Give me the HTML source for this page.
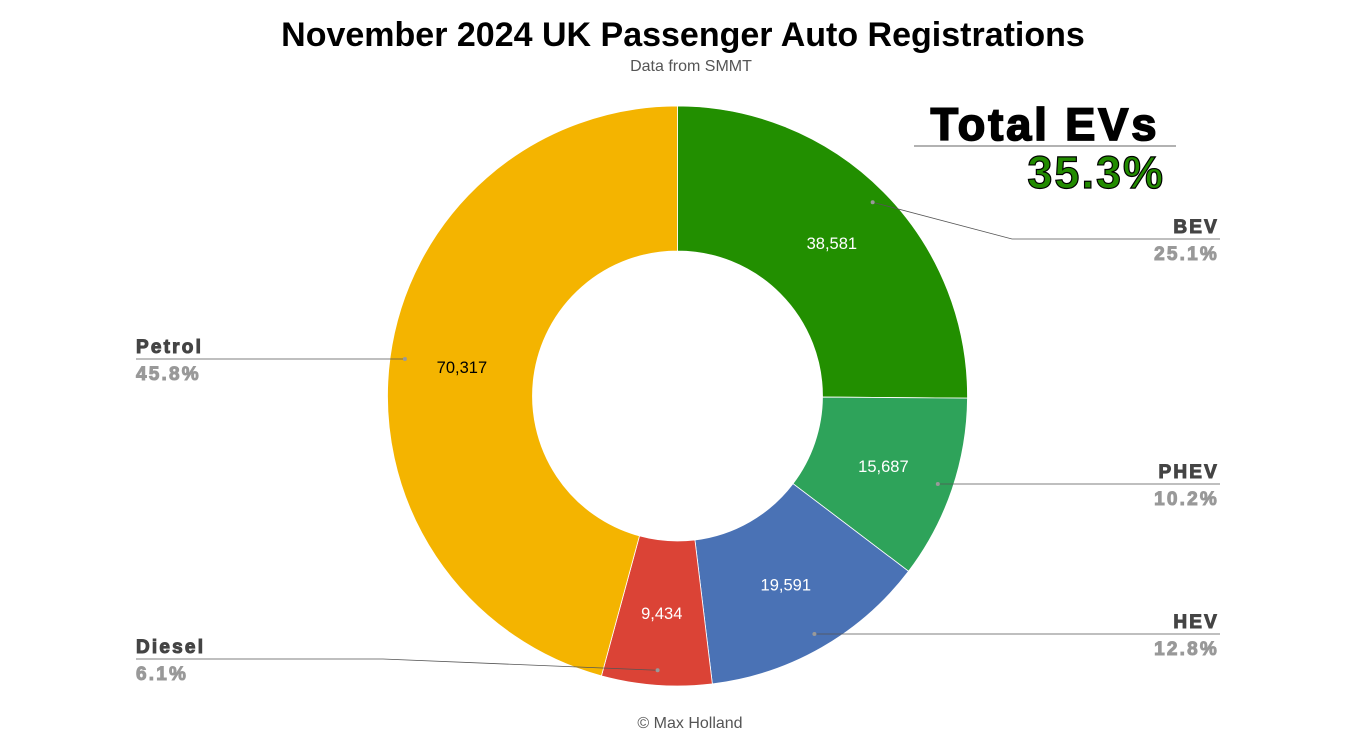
<!DOCTYPE html>
<html><head><meta charset="utf-8"><style>
html,body{margin:0;padding:0;background:#fff;}
svg{display:block;font-family:"Liberation Sans",Arial,sans-serif;}
</style></head><body>
<svg id="chart" width="1352" height="752" viewBox="0 0 1352 752">
<text x="683" y="46" text-anchor="middle" font-size="34" font-weight="bold" fill="#000">November 2024 UK Passenger Auto Registrations</text>
<text x="691" y="71" text-anchor="middle" font-size="16" fill="#555">Data from SMMT</text>
<g>
<text x="1045" y="140" text-anchor="middle" font-size="45" font-weight="bold" fill="#000" stroke="#000" stroke-width="1.8" letter-spacing="3">Total EVs</text>
<line x1="914" y1="146" x2="1176" y2="146" stroke="#666" stroke-width="1"/>
<text x="1165" y="188" text-anchor="end" font-size="45" font-weight="bold" fill="#228b00" stroke="#000" stroke-width="1.2" letter-spacing="2">35.3%</text>
</g>
<g id="slices"></g>
<g id="leaders"></g>
<text x="690" y="728" text-anchor="middle" font-size="16" fill="#555">© Max Holland</text>
</svg>
<script>
const categories=["BEV","PHEV","HEV","Diesel","Petrol"];
const values=[38581,15687,19591,9434,70317];
const colors=["#228f00","#2ea35a","#4a72b5","#db4336","#f4b400"];
const valueLabels=["38,581","15,687","19,591","9,434","70,317"];
const pctLabels=["25.1%","10.2%","12.8%","6.1%","45.8%"];
const labelColors=["#fff","#fff","#fff","#fff","#000"];
// layout (not data)
const cx=677.5,cy=396,R=290,r=145;
const anchors=[{x:1219,y:239,side:"r"},{x:1219,y:484,side:"r"},{x:1219,y:634,side:"r"},{x:136,y:659,side:"l",bx:383},{x:136,y:359,side:"l"}];
const NS="http://www.w3.org/2000/svg";
const total=values.reduce((a,b)=>a+b,0);
const sg=document.getElementById("slices"),lg=document.getElementById("leaders");
function pt(a,rad){return [cx+rad*Math.sin(a),cy-rad*Math.cos(a)];}
function mk(tag,attrs,parent){const e=document.createElementNS(NS,tag);for(const k in attrs)e.setAttribute(k,attrs[k]);parent.appendChild(e);return e;}
let acc=0;
values.forEach((v,i)=>{
  const a0=acc/total*2*Math.PI;acc+=v;const a1=acc/total*2*Math.PI;const am=(a0+a1)/2;
  const large=(a1-a0)>Math.PI?1:0;
  const p0=pt(a0,R),p1=pt(a1,R),q1=pt(a1,r),q0=pt(a0,r);
  const p=mk("path",{d:`M${p0[0]},${p0[1]}A${R},${R} 0 ${large} 1 ${p1[0]},${p1[1]}L${q1[0]},${q1[1]}A${r},${r} 0 ${large} 0 ${q0[0]},${q0[1]}Z`,fill:colors[i],stroke:"#fff","stroke-width":0.8},sg);
  
  
  const lp=pt(am,(R+r)/2);
  const t=mk("text",{x:lp[0],y:lp[1]+6,"text-anchor":"middle","font-size":16.5,fill:labelColors[i]},sg);
  t.textContent=valueLabels[i];
  
  
  const d=pt(am,275),A=anchors[i];
  let pts;
  if(A.side==="r"){pts=Math.abs(d[1]-A.y)>5?[[d[0],d[1]],[1012,A.y],[A.x+1,A.y]]:[[d[0],A.y],[A.x+1,A.y]];}
  else{pts=A.bx?[[d[0],d[1]],[A.bx,A.y],[A.x,A.y]]:[[d[0],A.y],[A.x,A.y]];}
  const pl=mk("polyline",{points:pts.map(q=>q.join(",")).join(" "),fill:"none",stroke:"#555","stroke-width":0.8},lg);
  
  
  const dot=mk("circle",{cx:d[0],cy:Math.abs(d[1]-A.y)>5?d[1]:A.y,r:2,fill:"#999"},lg);
  
  
  const anc=A.side==="r"?"end":"start";
  const n=mk("text",{x:A.x,y:A.y-6,"text-anchor":anc,"font-size":19,"font-weight":"bold",fill:"#444",stroke:"#444","stroke-width":1,"letter-spacing":2.2},lg);
  n.textContent=categories[i];
  
  
  const pc=mk("text",{x:A.x,y:A.y+21,"text-anchor":anc,"font-size":19,"font-weight":"bold",fill:"#999",stroke:"#999","stroke-width":1,"letter-spacing":2.2},lg);
  pc.textContent=pctLabels[i];
  
  
});
</script>
</body></html>
